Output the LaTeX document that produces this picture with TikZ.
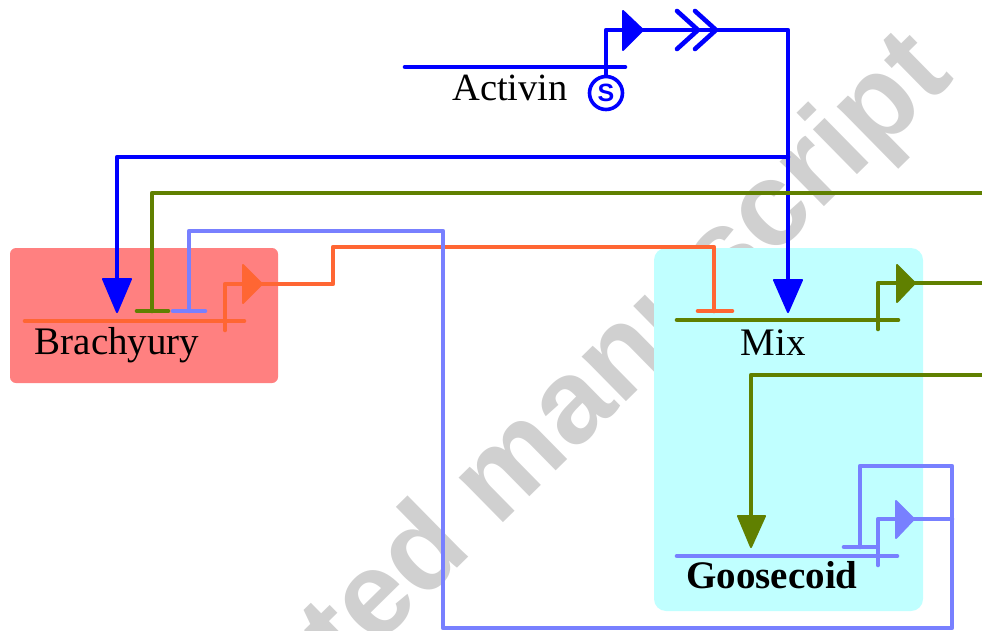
\documentclass[tikz,border=0pt]{standalone}
\usepackage{fontspec}
\setmainfont{Liberation Serif}
\newfontfamily\sansfam{Liberation Sans}
\definecolor{cblue}{RGB}{0,0,255}
\definecolor{cgreen}{RGB}{96,128,0}
\definecolor{corange}{RGB}{255,102,51}
\definecolor{clight}{RGB}{120,128,255}
\definecolor{cred}{RGB}{255,128,128}
\definecolor{ccyan}{RGB}{192,255,255}
\definecolor{cwm}{RGB}{208,208,208}
\tikzset{
  wire/.style={line width=4.6pt, line cap=round, line join=round},
  tipfill/.style={line width=2pt, line join=round},
  genebox/.style={rectangle, inner sep=0pt},
  label/.style={anchor=base, inner sep=0pt, font=\fontsize{39}{41}\selectfont},
}
\begin{document}
\begin{tikzpicture}[x=1pt,y=-1pt]
\useasboundingbox (0,0) rectangle (982,631);
\clip (0,0) rectangle (982,631);
% watermark
\node[rotate=44.5, anchor=base, inner sep=0pt, text=cwm, font=\sansfam\bfseries\fontsize{119}{119}\selectfont] (wm) at (524,502.5) {Accepted manuscript};
% boxes
\node[genebox, fill=cred, rounded corners=6pt, minimum width=268pt, minimum height=135pt] (brachbox) at (144,315.5) {};
\node[genebox, fill=ccyan, rounded corners=12pt, minimum width=269pt, minimum height=363pt] (mixbox) at (788.5,429.5) {};
% labels
\node[label, font=\fontsize{38.5}{40}\selectfont] (activin) at (510,101) {Activin};
\node[label] (brachyury) at (117,354) {Brachyury};
\node[label] (mix) at (773,355) {Mix};
\node[label, font=\bfseries\fontsize{39}{41}\selectfont] (goosecoid) at (772,588) {Goosecoid};
% ---------- coordinates ----------
\coordinate (actL) at (405,67);
\coordinate (actR) at (625,67);
\coordinate (actP) at (606,67);
\coordinate (actPt) at (606,30);
\coordinate (actCorner) at (788,30);
\coordinate (blueJ) at (788,157);
\coordinate (blueL) at (117,157);
\coordinate (mixTipBase) at (788,280);
\coordinate (braTipBase) at (117,280);
% ---------- Activin (blue) ----------
\draw[wire, cblue] (actL) -- (actR);
\node[circle, draw=cblue, line width=3.6pt, minimum size=33pt, inner sep=0pt, text=cblue, font=\sansfam\bfseries\fontsize{25}{25}\selectfont] (sym) at (606,93) {S};
\draw[wire, cblue] (actP) -- (sym.north);
\draw[wire, cblue] (actP) -- (actPt) -- (actCorner) -- (mixTipBase);
\filldraw[tipfill, cblue] (623,11) -- (643,30) -- (623,50) -- cycle;
\draw[wire, cblue] (677,11) -- (698,30) -- (677,49);
\draw[wire, cblue] (695,11) -- (716,30) -- (695,49);
\draw[wire, cblue] (blueJ) -- (blueL) -- (braTipBase);
\filldraw[tipfill, cblue] (103,279) -- (131,279) -- (117,312) -- cycle;
\filldraw[tipfill, cblue] (774,280) -- (802,280) -- (788,312) -- cycle;
% ---------- Brachyury (orange) ----------
\coordinate (braL) at (25,321);
\coordinate (braR) at (244,321);
\draw[wire, corange] (braL) -- (braR);
\draw[wire, corange] (225,330) -- (225,284) -- (243,284);
\filldraw[tipfill, corange] (243,265) -- (262,284) -- (243,303) -- cycle;
\draw[wire, corange] (262,284) -- (333,284) -- (333,247) -- (714,247) -- (714,311);
\draw[wire, corange] (698,311) -- (732,311);
% ---------- Mix (green) ----------
\draw[wire, cgreen] (677,320) -- (898,320);
\draw[wire, cgreen] (878,329) -- (878,283) -- (897,283);
\filldraw[tipfill, cgreen] (897,265) -- (915,283) -- (897,302) -- cycle;
\draw[wire, cgreen] (915,283) -- (982,283);
\draw[wire, cgreen] (982,193) -- (152,193) -- (152,311);
\draw[wire, cgreen] (137,311) -- (168,311);
\draw[wire, cgreen] (982,375) -- (751,375) -- (751,516);
\filldraw[tipfill, cgreen] (738,516) -- (765,516) -- (751,547) -- cycle;
% ---------- Goosecoid (light blue) ----------
\draw[wire, clight] (677,556) -- (897,556);
\draw[wire, clight] (878,565) -- (878,519) -- (896,519);
\filldraw[tipfill, clight] (896,501) -- (914,519) -- (896,538) -- cycle;
\draw[wire, clight] (914,519) -- (952,519);
\draw[wire, clight] (860,547) -- (860,466) -- (952,466) -- (952,628) -- (443,628) -- (443,231) -- (189,231) -- (189,311);
\draw[wire, clight] (173,311) -- (205,311);
\draw[wire, clight] (844,547) -- (877,547);
\end{tikzpicture}
\end{document}
